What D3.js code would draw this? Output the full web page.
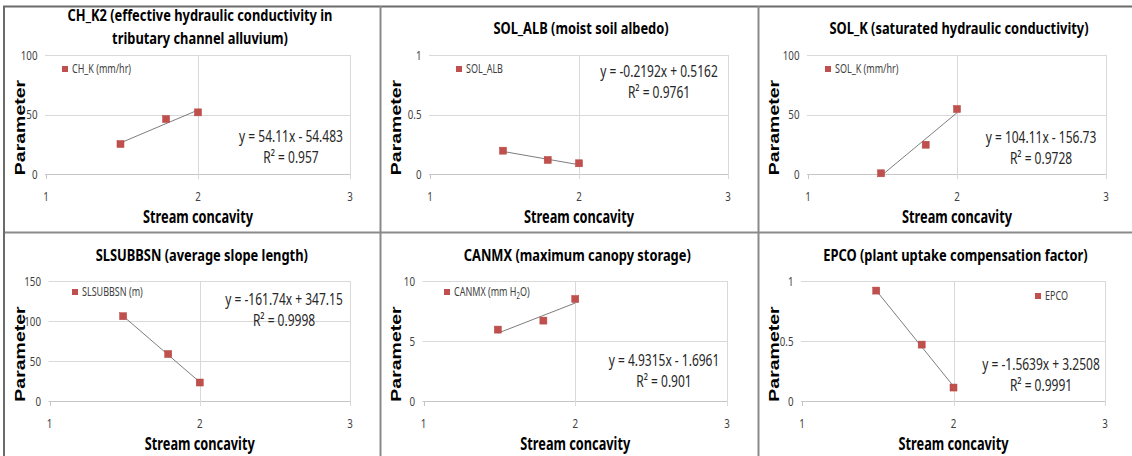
<!DOCTYPE html>
<html>
<head>
<meta charset="utf-8">
<script src="https://cdn.jsdelivr.net/npm/d3@7"></script>
<style>
body { margin: 0; background: #fff; }
</style>
</head>
<body>
<svg id="chart" width="1132" height="456"></svg>
<script>
// values (x = stream concavity)
var CONCAVITY = [1.49, 1.79, 2.0];
var CH_K = [25.2, 46.2, 51.8];
var SOL_ALB = [0.196, 0.118, 0.09];
var SOL_K = [0.6, 24.6, 54.6];
var SLSUBBSN = [106, 58.7, 23.1];
var CANMX = [5.95, 6.7, 8.5];
var EPCO = [0.92, 0.47, 0.112];

var TITLES = [
	["CH_K2 (effective hydraulic conductivity in", "tributary channel alluvium)"],
	["SOL_ALB (moist soil albedo)"],
	["SOL_K (saturated hydraulic conductivity)"],
	["SLSUBBSN (average slope length)"],
	["CANMX (maximum canopy storage)"],
	["EPCO (plant uptake compensation factor)"]
];
var SERIES_NAMES = ["CH_K (mm/hr)", "SOL_ALB", "SOL_K (mm/hr)", "SLSUBBSN (m)", "CANMX (mm H|2|O)", "EPCO"];
var Y_MAX = [100, 1, 100, 150, 10, 1];
var Y_STEP = [50, 0.5, 50, 50, 5, 0.5];
var X_TICKS = [1, 2, 3];
var SLOPES = [54.11, -0.2192, 104.11, -161.74, 4.9315, -1.5639];
var INTERCEPTS = [-54.483, 0.5162, -156.73, 347.15, -1.6961, 3.2508];
var R2 = [0.957, 0.9761, 0.9728, 0.9998, 0.901, 0.9991];
var X_LABEL = "Stream concavity";
var Y_LABEL = "Parameter";

var SERIES = [CH_K, SOL_ALB, SOL_K, SLSUBBSN, CANMX, EPCO];

// layout (pixels) of each panel
var COLS = [4, 380, 758];
var PLOTS = [
	{l: 46, r: 350, t: 55, b: 174},
	{l: 430, r: 728, t: 55, b: 174},
	{l: 808, r: 1106, t: 55, b: 174},
	{l: 49.5, r: 350, t: 281, b: 401},
	{l: 423.5, r: 727, t: 281, b: 401},
	{l: 802, r: 1105, t: 281, b: 401}
];
var LEGENDS = [[65, 69], [459, 69], [828, 69], [75, 292], [447, 292], [1038, 296]];
var EQUATIONS = [[291, 136], [659, 71], [1041, 137], [284, 299], [664, 360], [1041, 364]];
var TITLE_Y = [[15.5, 38], [28], [28], [254.7], [254.7], [254.7]];

var SQ = 0.75; // source picture is squeezed sideways
var FONT = "'Noto Sans', 'DejaVu Sans', sans-serif";
var RED = "#c0504d";

var svg = d3.select('#chart');

function label(g, x, y, txt, size, weight, anchor, fill, sq) {
	// y is the vertical centre of the capital letters
	return g.append('text')
		.attr('transform', 'translate(' + x + ',' + (y + size * 0.36) + ') scale(' + (sq || SQ) + ',1)')
		.attr('text-anchor', anchor)
		.attr('font-family', FONT)
		.attr('font-size', size)
		.attr('font-weight', weight)
		.attr('fill', fill)
		.text(txt);
}

function fmtEq(m, c) {
	return 'y = ' + m + 'x ' + (c < 0 ? '- ' : '+ ') + Math.abs(c);
}

// panel frame lines
svg.append('line').attr('x1', 3).attr('x2', 1132).attr('y1', 6.5).attr('y2', 6.5).attr('stroke', '#6b6b6b').attr('stroke-width', 2);
svg.append('line').attr('x1', 3).attr('x2', 1132).attr('y1', 232.5).attr('y2', 232.5).attr('stroke', '#8a8a8a').attr('stroke-width', 2);
COLS.forEach(function(cx, i) {
	var x = i == 0 ? 4 : cx + 0.5;
	svg.append('line').attr('x1', x).attr('x2', x).attr('y1', 6).attr('y2', 456)
		.attr('stroke', i == 0 ? '#6b6b6b' : '#8a8a8a').attr('stroke-width', 2);
});

SERIES.forEach(function(values, i) {
	var p = PLOTS[i];
	var colX = COLS[i % 3];
	var g = svg.append('g');
	var x = d3.scaleLinear().domain([1, 3]).range([p.l, p.r]);
	var y = d3.scaleLinear().domain([0, Y_MAX[i]]).range([p.b, p.t]);
	var yTicks = d3.range(0, Y_MAX[i] + Y_STEP[i] / 2, Y_STEP[i]);

	// grid
	g.selectAll('.hgrid').data(yTicks).enter().append('line')
		.attr('x1', p.l - 1).attr('x2', p.r)
		.attr('y1', function(d) { return Math.round(y(d)) + 0.5; })
		.attr('y2', function(d) { return Math.round(y(d)) + 0.5; })
		.attr('stroke', function(d) { return d == 0 ? '#c6c6c6' : '#d9d9d9'; });
	g.selectAll('.vgrid').data(X_TICKS).enter().append('line')
		.attr('x1', function(d) { return Math.round(x(d)) + 0.5; })
		.attr('x2', function(d) { return Math.round(x(d)) + 0.5; })
		.attr('y1', function(d) { return d == 1 ? p.b : p.t; })
		.attr('y2', p.b + 5)
		.attr('stroke', function(d) { return d == 1 ? '#c6c6c6' : '#d9d9d9'; });

	// tick labels
	yTicks.forEach(function(d) {
		label(g, p.l - 8.5, y(d), d3.format('~g')(d), 13, 400, 'end', '#404040');
	});
	X_TICKS.forEach(function(d) {
		label(g, x(d), p.b + 22.5, d, 13, 400, 'middle', '#404040');
	});

	// titles
	var cx = (p.l + p.r) / 2 + 2;
	TITLES[i].forEach(function(t, k) {
		label(g, cx, TITLE_Y[i][k], t, 16.5, 700, 'middle', '#000', 0.78);
	});
	label(g, (p.l + p.r) / 2, p.b + 42.5, X_LABEL, 17, 700, 'middle', '#000');
	var yc = (p.t + p.b) / 2 + 13;
	g.append('text')
		.attr('transform', 'translate(' + (colX + 14 + 7) + ',' + yc + ') scale(' + SQ + ',1) rotate(-90)')
		.attr('text-anchor', 'middle')
		.attr('font-family', "'Liberation Sans', Arial, sans-serif")
		.attr('font-size', 19.5)
		.attr('font-weight', 700)
		.attr('fill', '#000')
		.text(Y_LABEL);

	// trendline over the data range
	var x0 = d3.min(CONCAVITY), x1 = d3.max(CONCAVITY);
	g.append('line')
		.attr('x1', x(x0)).attr('y1', y(SLOPES[i] * x0 + INTERCEPTS[i]))
		.attr('x2', x(x1)).attr('y2', y(SLOPES[i] * x1 + INTERCEPTS[i]))
		.attr('stroke', '#6e6e6e').attr('stroke-width', 0.9);

	// markers
	g.selectAll('.pt').data(values).enter().append('rect')
		.attr('x', function(d, k) { return x(CONCAVITY[k]) - 3.5; })
		.attr('y', function(d) { return y(d) - 3.5; })
		.attr('width', 7).attr('height', 7)
		.attr('fill', RED).attr('stroke', '#b5443f').attr('stroke-width', 0.5);

	// legend
	var lg = LEGENDS[i];
	g.append('rect').attr('x', lg[0] - 3).attr('y', lg[1] - 3).attr('width', 6).attr('height', 6).attr('fill', RED);
	var parts = SERIES_NAMES[i].split('|');
	var lt = label(g, lg[0] + 7, lg[1], parts[0], 12, 400, 'start', '#404040');
	if(parts.length > 1) {
		lt.append('tspan').attr('font-size', 8).attr('dy', 2.5).text(parts[1]);
		lt.append('tspan').attr('dy', -2.5).text(parts[2]);
	}

	// equation
	var eq = EQUATIONS[i];
	label(g, eq[0], eq[1], fmtEq(SLOPES[i], INTERCEPTS[i]), 16, 400, 'middle', '#262626');
	label(g, eq[0], eq[1] + 21, 'R\u00b2 = ' + R2[i], 16, 400, 'middle', '#262626');
});
</script>
</body>
</html>
